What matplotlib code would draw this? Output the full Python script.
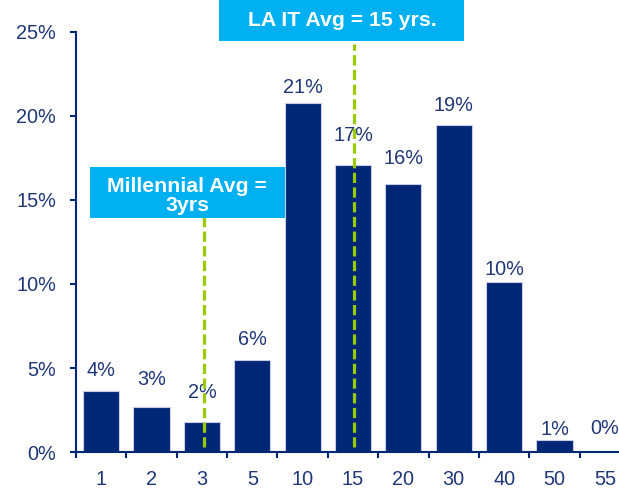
import matplotlib
matplotlib.use("Agg")
import matplotlib.pyplot as plt
from matplotlib.patches import Rectangle

plt.rcParams['font.family'] = ['Liberation Sans', 'DejaVu Sans']

categories = ["1", "2", "3", "5", "10", "15", "20", "30", "40", "50", "55"]
values = [3.65, 2.7, 1.77, 5.5, 20.8, 17.1, 15.95, 19.46, 10.14, 0.7, 0.0]
labels = ["4%", "3%", "2%", "6%", "21%", "17%", "16%", "19%", "10%", "1%", "0%"]
yticks = [0, 5, 10, 15, 20, 25]
ytick_labels = ["0%", "5%", "10%", "15%", "20%", "25%"]
millennial_pos = 2.04
la_it_pos = 5.02

NAVY = "#002776"
TEXT = "#1F3779"
CYAN = "#00B0F0"
LIME = "#99CC00"

fig = plt.figure(figsize=(6.19, 4.91), dpi=100)
W, H = 619, 491
ax = fig.add_axes([76 / W, (H - 452) / H, 554 / W, 420 / H])

x = list(range(len(categories)))
ax.bar(x, values, width=0.72, color=NAVY, edgecolor="#C9CEE6", linewidth=0.8, zorder=2)

# label offsets above bar tops (points), per the reference's placement
label_offsets = [14.4, 19.8, 21.6, 14.4, 10.8, 20.9, 18.5, 14.4, 8.9, 7.9, 16.6]
for xi, v, lab, off in zip(x, values, labels, label_offsets):
    ax.annotate(lab, (xi, v), xytext=(0, off), textcoords="offset points",
                ha="center", va="center", fontsize=14.3, color=TEXT, zorder=3)

ax.set_xlim(-0.5, len(categories) - 0.5)
ax.set_ylim(0, 25)
ax.set_yticks(yticks)
ax.set_yticklabels(ytick_labels)
ax.set_xticks([i - 0.5 for i in range(len(categories) + 1)], minor=False)
ax.set_xticklabels([])
ax.set_xticks(x, minor=True)
ax.set_xticklabels(categories, minor=True)
ax.tick_params(axis="x", which="major", length=4, width=1.5, color=NAVY, direction="out")
ax.tick_params(axis="x", which="minor", length=0, pad=13, labelsize=14.3, labelcolor=TEXT)
ax.tick_params(axis="y", length=4.3, width=1.5, color=NAVY, labelsize=14.3, labelcolor=TEXT, pad=10)
for s in ["top", "right"]:
    ax.spines[s].set_visible(False)
for s in ["left", "bottom"]:
    ax.spines[s].set_color(NAVY)
    ax.spines[s].set_linewidth(1.5)

# dashed average lines
ax.plot([millennial_pos, millennial_pos], [0.3, 14.0], color=LIME, lw=2.3,
        dashes=(3.2, 1.4), zorder=4, clip_on=False)
ax.plot([la_it_pos, la_it_pos], [0.3, 24.3], color=LIME, lw=2.3,
        dashes=(3.2, 1.4), zorder=4, clip_on=False)

# callout boxes (figure pixel coords)
def fbox(x0, y0, x1, y1):
    r = Rectangle((x0 / W, 1 - y1 / H), (x1 - x0) / W, (y1 - y0) / H,
                  transform=fig.transFigure, facecolor=CYAN, edgecolor="none", zorder=5)
    fig.add_artist(r)

fbox(219, -2, 464, 41)
fig.text(342 / W, 1 - 21 / H, "LA IT Avg = 15 yrs.", ha="center", va="center",
         color="white", fontsize=15.3, fontweight="bold", zorder=6)
fbox(90, 167, 285, 218)
fig.text(187 / W, 1 - 196 / H, "Millennial Avg =\n3yrs", ha="center", va="center",
         color="white", fontsize=15.3, fontweight="bold", linespacing=1.05, zorder=6)

fig.savefig("out.png", dpi=100)
